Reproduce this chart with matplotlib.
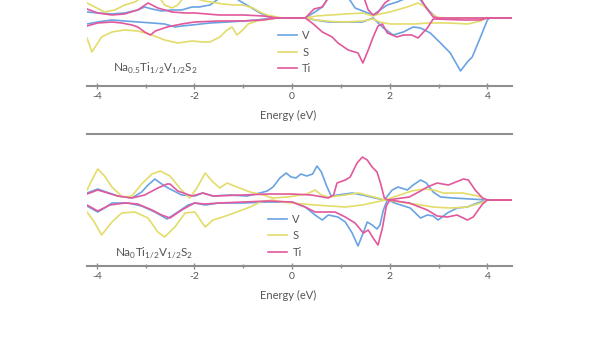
import matplotlib.pyplot as plt
import numpy as np

plt.rcParams['font.family'] = ['Lato', 'DejaVu Sans']
plt.rcParams['mathtext.fontset'] = 'custom'
plt.rcParams['mathtext.rm'] = 'Lato'
plt.rcParams['axes.unicode_minus'] = False

# partial DOS: (energy eV, DOS) pairs, up = positive, down = negative
# --- top panel: Na0.5Ti1/2V1/2S2 ---
v_up_top = [(-4.2, 0.6), (-3.98, 0.5), (-3.69, 0.4), (-3.43, 0.5), (-3.16, 0.8), (-3.02, 1.1),
            (-2.87, 0.9), (-2.67, 0.7), (-2.46, 0.8), (-2.26, 0.8), (-2.05, 1.1), (-1.9, 1.1),
            (-1.68, 1.3), (-1.48, 2.0), (-1.3, 2.5), (-1.07, 1.7), (-0.86, 1.1), (-0.66, 0.5),
            (-0.45, 0.1), (-0.25, 0.0), (0.27, 0.0), (0.47, 0.6), (0.62, 1.1), (0.74, 2.0),
            (0.9, 2.6), (1.13, 2.2), (1.29, 1.0), (1.5, 0.6), (1.66, 0.3), (1.8, 0.8),
            (1.95, 1.3), (2.15, 1.6), (2.45, 2.2), (2.6, 2.0), (2.69, 1.4), (2.83, 0.6),
            (2.97, 0.0), (4.5, 0.0)]
v_dn_top = [(-4.2, -0.6), (-3.98, -0.4), (-3.69, -0.2), (-3.43, -0.3), (-3.16, -0.4), (-2.87, -0.5),
            (-2.61, -0.6), (-2.40, -0.9), (-2.26, -0.8), (-2.05, -0.7), (-1.68, -0.5), (-1.3, -0.4),
            (-0.72, -0.2), (-0.4, 0.0), (0.27, 0.0), (0.47, -0.2), (0.74, -0.4), (1.09, -0.4),
            (1.44, -0.4), (1.66, 0.0), (1.87, -1.0), (2.07, -1.7), (2.28, -1.4), (2.48, -0.9),
            (2.63, -1.0), (2.83, -1.5), (3.04, -2.5), (3.24, -3.5), (3.45, -5.3), (3.59, -4.4),
            (3.69, -3.9), (3.86, -1.9), (4.0, -0.2), (4.05, 0.0), (4.5, 0.0)]
s_up_top = [(-4.2, 1.5), (-4.0, 1.0), (-3.84, 0.6), (-3.63, 0.8), (-3.43, 1.3), (-3.22, 1.6),
            (-3.0, 2.3), (-2.75, 2.3), (-2.61, 1.3), (-2.46, 1.0), (-2.34, 1.3), (-2.2, 2.2),
            (-2.0, 2.0), (-1.8, 1.7), (-1.42, 1.4), (-1.21, 1.3), (-1.01, 1.3), (-0.80, 1.0),
            (-0.66, 0.6), (-0.51, 0.3), (-0.31, 0.1), (-0.2, 0.0), (0.27, 0.0), (0.5, 0.2),
            (0.8, 0.3), (1.1, 0.4), (1.45, 0.5), (1.65, 0.2), (1.8, 0.4), (2.0, 0.6),
            (2.36, 1.1), (2.58, 1.5), (2.7, 1.2), (2.83, 0.5), (2.95, 0.1), (3.1, 0.0), (4.5, 0.0)]
s_dn_top = [(-4.2, -2.0), (-4.1, -3.4), (-3.9, -1.9), (-3.69, -1.4), (-3.43, -1.2), (-3.16, -1.3),
            (-2.87, -1.7), (-2.61, -2.2), (-2.34, -2.5), (-2.05, -2.3), (-1.83, -2.4), (-1.68, -2.4),
            (-1.48, -1.9), (-1.33, -1.2), (-1.23, -0.9), (-1.13, -1.7), (-1.01, -1.2), (-0.9, -0.6),
            (-0.72, -0.3), (-0.51, -0.15), (-0.3, 0.0), (0.27, 0.0), (0.5, -0.2), (0.8, -0.35),
            (1.1, -0.4), (1.45, -0.3), (1.65, -0.1), (1.8, -0.4), (2.0, -0.6), (2.5, -0.6),
            (2.8, -0.5), (3.2, -0.5), (3.6, -0.6), (3.86, -0.3), (4.0, 0.0), (4.5, 0.0)]
ti_up_top = [(-4.2, 0.9), (-3.98, 0.5), (-3.69, 0.3), (-3.43, 0.4), (-3.16, 0.8), (-2.95, 1.5),
             (-2.75, 1.0), (-2.46, 0.6), (-2.19, 0.5), (-1.99, 0.5), (-1.5, 0.3), (-1.0, 0.3),
             (-0.6, 0.2), (-0.3, 0.0), (0.27, 0.0), (0.45, 0.9), (0.62, 1.1), (0.74, 2.0),
             (0.9, 2.5), (1.3, 2.5), (1.46, 2.2), (1.56, 0.8), (1.66, 0.3), (1.75, 0.5),
             (1.9, 1.5), (2.1, 2.2), (2.6, 2.2), (2.75, 1.0), (2.89, 0.1), (3.0, 0.0), (4.5, 0.0)]
ti_dn_top = [(-4.2, -0.8), (-3.98, -0.5), (-3.69, -0.4), (-3.49, -0.5), (-3.28, -0.7), (-3.16, -0.9),
             (-3.02, -1.4), (-2.90, -1.7), (-2.80, -1.3), (-2.56, -0.9), (-2.26, -0.6), (-1.99, -0.4),
             (-1.5, -0.3), (-1.0, -0.3), (-0.6, -0.2), (-0.3, 0.0), (0.27, 0.0), (0.41, -0.5),
             (0.62, -1.4), (0.82, -1.9), (0.94, -2.5), (1.15, -3.2), (1.35, -3.5), (1.45, -4.5),
             (1.56, -3.2), (1.66, -1.9), (1.76, -0.8), (1.85, -0.6), (1.95, -1.5), (2.15, -1.9),
             (2.28, -1.7), (2.45, -1.7), (2.58, -2.0), (2.77, -1.0), (2.89, -0.1), (3.5, -0.2),
             (3.85, -0.2), (4.0, 0.0), (4.5, 0.0)]

# --- bottom panel: Na0Ti1/2V1/2S2 ---
v_up_bot = [(-4.2, 0.7), (-3.98, 1.1), (-3.57, 0.4), (-3.28, 0.2), (-3.08, 0.8), (-2.95, 1.5),
            (-2.81, 2.1), (-2.67, 1.6), (-2.54, 1.2), (-2.26, 0.5), (-1.99, 0.4), (-1.83, 0.7),
            (-1.62, 0.4), (-1.27, 0.5), (-0.92, 0.4), (-0.66, 0.7), (-0.51, 0.9), (-0.39, 1.3),
            (-0.25, 2.2), (-0.12, 2.7), (-0.02, 2.3), (0.08, 2.2), (0.18, 2.6), (0.3, 2.4),
            (0.42, 2.6), (0.51, 3.4), (0.6, 2.8), (0.7, 1.5), (0.8, 0.4), (0.94, 0.5),
            (1.23, 0.7), (1.44, 0.5), (1.70, 0.2), (1.89, 0.0), (2.05, 1.0), (2.17, 1.3),
            (2.36, 1.0), (2.48, 1.5), (2.63, 2.0), (2.75, 1.7), (2.89, 0.8), (3.04, 0.3),
            (3.3, 0.2), (4.0, 0.0), (4.5, 0.0)]
v_dn_bot = [(-4.2, -0.6), (-3.98, -1.2), (-3.84, -0.8), (-3.69, -0.3), (-3.36, -0.3), (-3.08, -0.6),
            (-2.81, -1.2), (-2.56, -1.9), (-2.34, -1.2), (-2.13, -0.5), (-1.99, -0.3), (-1.78, -0.5),
            (-1.5, -0.3), (-1.0, -0.3), (-0.5, -0.2), (0.0, -0.2), (0.27, -0.7), (0.47, -1.5),
            (0.62, -2.0), (0.74, -1.5), (0.94, -1.7), (1.09, -2.2), (1.23, -3.3), (1.35, -4.6),
            (1.44, -3.5), (1.54, -2.2), (1.64, -2.5), (1.74, -2.9), (1.80, -2.5), (1.87, -1.0),
            (1.95, 0.0), (2.1, -0.3), (2.42, -0.8), (2.63, -1.8), (2.77, -1.5), (2.89, -1.6),
            (2.99, -2.0), (3.18, -1.3), (3.38, -0.8), (3.59, -0.7), (3.79, -0.3), (4.0, 0.0),
            (4.5, 0.0)]
s_up_bot = [(-4.2, 1.0), (-4.1, 2.0), (-3.98, 3.1), (-3.84, 2.4), (-3.69, 1.3), (-3.47, 0.3),
            (-3.28, 0.4), (-3.08, 1.6), (-2.87, 2.6), (-2.7, 2.9), (-2.5, 2.4), (-2.3, 1.2),
            (-2.1, 0.2), (-1.95, 1.2), (-1.78, 2.7), (-1.62, 1.8), (-1.48, 1.2), (-1.33, 1.7),
            (-1.13, 1.3), (-0.86, 0.8), (-0.59, 0.5), (-0.4, 0.2), (-0.1, 0.3), (0.3, 0.6),
            (0.47, 1.0), (0.6, 0.5), (0.75, 0.3), (1.09, 0.5), (1.35, 0.7), (1.6, 0.4),
            (1.91, 0.0), (2.2, 0.5), (2.45, 0.9), (2.7, 1.1), (2.9, 1.0), (3.1, 0.7),
            (3.5, 0.7), (3.8, 0.4), (4.0, 0.0), (4.5, 0.0)]
s_dn_bot = [(-4.2, -1.2), (-4.05, -2.2), (-3.90, -3.5), (-3.69, -2.2), (-3.49, -1.3), (-3.22, -1.2),
            (-2.95, -1.8), (-2.75, -3.2), (-2.61, -3.7), (-2.4, -2.7), (-2.19, -1.3), (-1.99, -1.2),
            (-1.78, -2.7), (-1.62, -2.0), (-1.42, -1.7), (-1.13, -1.2), (-0.86, -0.7), (-0.66, -0.2),
            (-0.4, 0.0), (-0.2, -0.2), (0.0, -0.3), (0.47, -0.5), (1.09, -0.7), (1.44, -0.5),
            (1.91, 0.0), (2.5, -0.4), (2.89, -0.7), (3.24, -0.8), (3.59, -0.7), (3.86, -0.3),
            (4.0, 0.0), (4.5, 0.0)]
ti_up_bot = [(-4.2, 0.6), (-3.98, 1.0), (-3.57, 0.4), (-3.28, 0.2), (-3.02, 0.5), (-2.75, 1.2),
             (-2.56, 1.6), (-2.50, 1.6), (-2.34, 0.9), (-2.05, 0.4), (-1.83, 0.7), (-1.62, 0.4),
             (-1.0, 0.5), (-0.5, 0.6), (0.0, 0.6), (0.4, 0.5), (0.74, 0.2), (0.85, 0.5),
             (0.92, 1.7), (1.09, 2.0), (1.19, 2.3), (1.33, 3.7), (1.44, 4.3), (1.54, 4.0),
             (1.64, 3.3), (1.74, 2.8), (1.81, 1.7), (1.89, 0.2), (1.95, 0.0), (2.4, 0.3),
             (2.63, 0.9), (2.77, 1.3), (2.97, 1.7), (3.2, 1.5), (3.51, 2.1), (3.61, 2.0),
             (3.75, 1.0), (3.90, 0.2), (4.0, 0.0), (4.5, 0.0)]
ti_dn_bot = [(-4.2, -0.5), (-3.98, -1.1), (-3.73, -0.5), (-3.43, -0.3), (-3.16, -0.4), (-2.87, -1.0),
             (-2.67, -1.5), (-2.50, -1.8), (-2.26, -1.0), (-2.0, -0.3), (-1.78, -0.4), (-1.5, -0.3),
             (-1.0, -0.2), (-0.5, -0.1), (0.0, -0.2), (0.27, -0.7), (0.47, -1.2), (0.68, -1.2),
             (0.88, -1.2), (1.09, -1.7), (1.29, -2.3), (1.46, -3.3), (1.56, -3.0), (1.66, -3.8),
             (1.76, -4.5), (1.85, -2.8), (1.93, -0.6), (2.0, 0.0), (2.4, -0.3), (2.77, -1.0),
             (2.97, -1.6), (3.18, -1.7), (3.38, -1.5), (3.59, -2.0), (3.71, -1.7), (3.90, -0.4),
             (4.0, 0.0), (4.5, 0.0)]

labels = ['V', 'S', 'Ti']
colors = ['#6aa3e3', '#e3dc6b', '#e2589c']
formulas = [r'Na$_{\mathrm{0.5}}$Ti$_{\mathrm{1/2}}$V$_{\mathrm{1/2}}$S$_{\mathrm{2}}$',
            r'Na$_{\mathrm{0}}$Ti$_{\mathrm{1/2}}$V$_{\mathrm{1/2}}$S$_{\mathrm{2}}$']
panels = [[(v_up_top, v_dn_top), (s_up_top, s_dn_top), (ti_up_top, ti_dn_top)],
          [(v_up_bot, v_dn_bot), (s_up_bot, s_dn_bot), (ti_up_bot, ti_dn_bot)]]

gray = '#8f8f8f'
txt = '#555555'

fig = plt.figure(figsize=(6, 3.38), dpi=100)
ax_top = fig.add_axes([0.145, 0.7456, 0.708, 0.4024])
ax_bot = fig.add_axes([0.145, 0.213, 0.708, 0.3905])

for i, (ax, curves, formula) in enumerate(zip([ax_top, ax_bot], panels, formulas)):
    for (up, dn), lab, col in zip(curves, labels, colors):
        e, d = np.array(up).T
        ax.plot(e, d, color=col, lw=1.2, label=lab, solid_joinstyle='round')
        e, d = np.array(dn).T
        ax.plot(e, d, color=col, lw=1.2, solid_joinstyle='round')
    ax.set_xlim(-4.2, 4.5)
    ax.set_ylim(-6.8 if i == 0 else -6.6, 6.8 if i == 0 else 6.6)
    for s in ['left', 'right']:
        ax.spines[s].set_visible(False)
    ax.spines['top'].set_visible(i == 1)
    for s in ['top', 'bottom']:
        ax.spines[s].set_color(gray)
        ax.spines[s].set_linewidth(1.5)
    ax.set_yticks([])
    ax.set_xticks([-4, -2, 0, 2, 4])
    ax.set_xticks([-3, -1, 1, 3], minor=True)
    ax.tick_params(axis='x', which='both', direction='inout', color=gray, width=1,
                   labelsize=7.5, labelcolor=txt, pad=2)
    ax.tick_params(axis='x', which='major', length=4)
    ax.tick_params(axis='x', which='minor', length=3)

    ax.text(0.473, -0.215 if i == 0 else -0.227, 'Energy (eV)', transform=ax.transAxes,
            ha='center', va='center', fontsize=8, color=txt)
    ax.text(0.062 if i == 0 else 0.066, 0.13 if i == 0 else 0.098, formula,
            transform=ax.transAxes, ha='left', va='center', fontsize=8.5, color=txt)

    leg = ax.legend(loc='upper left',
                    bbox_to_anchor=(0.449, 0.41) if i == 0 else (0.426, 0.396),
                    frameon=False, fontsize=8, handlelength=1.7, handletextpad=0.5,
                    labelspacing=0.5, borderpad=0, borderaxespad=0)
    for t in leg.get_texts():
        t.set_color(txt)

fig.savefig('out.png', dpi=100, facecolor='white')
